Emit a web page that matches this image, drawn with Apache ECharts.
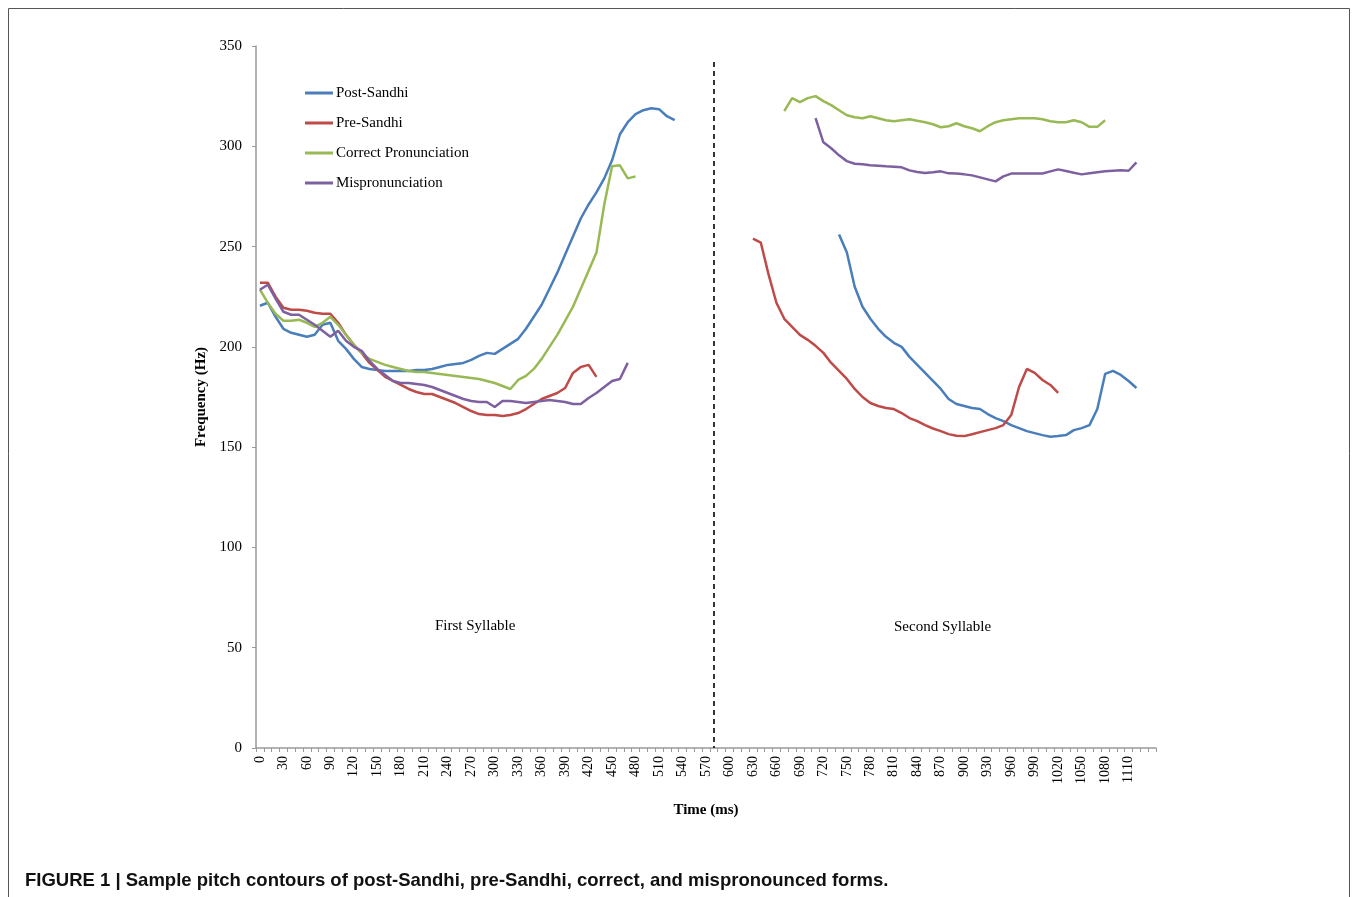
<!DOCTYPE html>
<html>
<head>
<meta charset="utf-8">
<script src="https://cdn.jsdelivr.net/npm/echarts@6/dist/echarts.min.js"></script>
<style>
html,body{margin:0;padding:0;background:#fff;}
#chart{width:1357px;height:897px;}
</style>
</head>
<body>
<div id="chart"></div>
<script>
// Time categories (ms)
var timeCategories = ['0','10','20','30','40','50','60','70','80','90','100','110','120','130','140','150','160','170','180','190','200','210','220','230','240','250','260','270','280','290','300','310','320','330','340','350','360','370','380','390','400','410','420','430','440','450','460','470','480','490','500','510','520','530','540','550','560','570','580','590','600','610','620','630','640','650','660','670','680','690','700','710','720','730','740','750','760','770','780','790','800','810','820','830','840','850','860','870','880','890','900','910','920','930','940','950','960','970','980','990','1000','1010','1020','1030','1040','1050','1060','1070','1080','1090','1100','1110','1120','1130','1140'];
var lastLabelled = '1110';

var yTicks = [0, 50, 100, 150, 200, 250, 300, 350];

// Post-Sandhi
var postSandhi1Start = '0';
var postSandhi1 = [220.5,222,215,209,207,206,205,206,211,212,203,199,194,190,189,188.5,188,188,188,188,188.5,188.5,189,190,191,191.5,192,193.5,195.5,197,196.5,199,201.5,204,209,215,221,229,237,246,255,264,271,277,284,293,306,312,316,318,319,318.5,315,313];
var postSandhi2Start = '740';
var postSandhi2 = [256,247,230,220,214,209,205,202,200,195,191,187,183,179,174,171.5,170.5,169.5,169,166.5,164.5,163,161,159.5,158,157,156,155.2,155.5,156,158.5,159.5,161,169,186.5,188,186,183,179.5];

// Pre-Sandhi
var preSandhi1Start = '0';
var preSandhi1 = [232,232,225,219.5,218.5,218.5,218,217,216.5,216.5,212,206,201,197,192,188.5,185,183,181,179,177.5,176.5,176.5,175,173.5,172,170,168,166.5,166,166,165.5,166,167,169,171.5,174,175.5,177,179.5,187,190,191,185];
var preSandhi2Start = '630';
var preSandhi2 = [254,252,236,222,214,210,206,203.5,200.5,197,192,188,184,179,175,172,170.5,169.5,169,167,164.5,163,161,159.3,158,156.5,155.7,155.5,156.4,157.5,158.5,159.5,161,166,180,189,187,183.5,181,177];

// Correct Pronunciation
var correct1Start = '0';
var correct1 = [228.5,222,216.5,213,213,213.5,212,210,212,215,211,206,201,197,194,192.5,191,190,189,188,187.5,187.5,187,186.5,186,185.5,185,184.5,184,183,182,180.5,179,183.5,185.5,189,194,200,206,213,220,229,238,247,271,290,290.5,284,285];
var correct2Start = '670';
var correct2 = [317.5,324,322,324,325,322.5,320.5,318,315.5,314.5,314,315,314,313,312.5,313,313.5,312.7,312,311,309.5,310,311.5,310,309,307.5,310,312,313,313.5,314,314,314,313.5,312.5,312,312,313,312,309.7,309.7,313];

// Mispronunciation
var mispron1Start = '0';
var mispron1 = [228.5,231,224,217.5,216,216,213.5,211,208,205,208,203,200,198,193,189,186,183,182,182,181.5,181,180,178.5,177,175.5,174,173,172.5,172.5,170,173,173,172.5,172,172.5,173,173.5,173,172.5,171.5,171.5,174.5,177,180,183,184,192];
var mispron2Start = '710';
var mispron2 = [314,302,299,295.5,292.6,291.3,291,290.5,290.3,290,289.8,289.5,288,287.2,286.7,287,287.5,286.5,286.4,286,285.5,284.5,283.5,282.5,285,286.4,286.4,286.4,286.4,286.4,287.5,288.5,287.7,286.8,286,286.5,287,287.5,287.8,288,287.8,292];

var dividerAt = '580';
var dividerTop = 342;

var seriesNames = ['Post-Sandhi', 'Pre-Sandhi', 'Correct Pronunciation', 'Mispronunciation'];
var seriesColors = ['#4A7EBB', '#BE4B48', '#98B954', '#7D60A0'];

function buildRow(segments) {
  var row = timeCategories.map(function () { return null; });
  segments.forEach(function (seg) {
    var s = timeCategories.indexOf(seg[0]);
    seg[1].forEach(function (v, k) { row[s + k] = v; });
  });
  return row;
}

var rows = [
  buildRow([[postSandhi1Start, postSandhi1], [postSandhi2Start, postSandhi2]]),
  buildRow([[preSandhi1Start, preSandhi1], [preSandhi2Start, preSandhi2]]),
  buildRow([[correct1Start, correct1], [correct2Start, correct2]]),
  buildRow([[mispron1Start, mispron1], [mispron2Start, mispron2]])
];

var serif = '"Liberation Serif", "DejaVu Serif", serif';
var lastIdx = timeCategories.indexOf(lastLabelled);

var series = rows.map(function (r, i) {
  return {
    name: seriesNames[i],
    type: 'line',
    data: r,
    symbol: 'none',
    connectNulls: false,
    lineStyle: { width: 2.5, color: seriesColors[i] },
    itemStyle: { color: seriesColors[i] },
    z: 3
  };
});

series[0].markLine = {
  silent: true,
  symbol: ['none', 'none'],
  label: { show: false },
  lineStyle: { type: [5, 4], color: '#333', width: 2 },
  data: [[{ coord: [dividerAt, dividerTop] }, { coord: [dividerAt, 0] }]]
};

var chart = echarts.init(document.getElementById('chart'));
chart.setOption({
  animation: false,
  backgroundColor: '#fff',
  grid: { left: 256, right: 201, top: 46, bottom: 149, containLabel: false },
  legend: {
    orient: 'vertical',
    left: 300,
    top: 80,
    itemWidth: 28,
    itemHeight: 3,
    itemGap: 14,
    icon: 'rect',
    textStyle: { fontFamily: serif, fontSize: 15, color: '#000', lineHeight: 16, padding: [0, 0, 0, -2] },
    data: seriesNames
  },
  xAxis: {
    type: 'category',
    data: timeCategories,
    boundaryGap: true,
    name: 'Time (ms)',
    nameLocation: 'middle',
    nameGap: 55,
    nameTextStyle: { fontFamily: serif, fontSize: 15, fontWeight: 'bold', color: '#000' },
    axisLine: { lineStyle: { color: '#999', width: 1.5 } },
    axisTick: { show: true, interval: 0, length: 4, lineStyle: { color: '#999' } },
    axisLabel: {
      interval: function (index) { return index % 3 === 0 && index <= lastIdx; },
      rotate: 90, fontFamily: serif, fontSize: 14, color: '#000', margin: 8
    },
    splitLine: { show: false }
  },
  yAxis: {
    type: 'value',
    min: yTicks[0],
    max: yTicks[yTicks.length - 1],
    interval: 50,
    name: 'Frequency (Hz)',
    nameLocation: 'middle',
    nameRotate: 90,
    nameGap: 45,
    nameTextStyle: { fontFamily: serif, fontSize: 15, fontWeight: 'bold', color: '#000' },
    axisLine: { show: true, lineStyle: { color: '#999', width: 1.5 } },
    axisTick: { show: true, length: 4, lineStyle: { color: '#999' } },
    axisLabel: { fontFamily: serif, fontSize: 15, color: '#000', margin: 14 },
    splitLine: { show: false }
  },
  graphic: [
    { type: 'rect', shape: { x: 8.5, y: 8.5, width: 1341, height: 900 }, style: { fill: 'none', stroke: '#555', lineWidth: 1 }, silent: true, z: -1 },
    { type: 'text', left: 435, top: 619, style: { text: 'First Syllable', font: '15px ' + serif, fill: '#000' } },
    { type: 'text', left: 894, top: 620, style: { text: 'Second Syllable', font: '15px ' + serif, fill: '#000' } },
    { type: 'text', left: 25, top: 871, style: { text: 'FIGURE 1 | Sample pitch contours of post-Sandhi, pre-Sandhi, correct, and mispronounced forms.', font: 'bold 18.5px "Liberation Sans", Arial, sans-serif', fill: '#111' } }
  ],
  series: series
});
</script>
</body>
</html>
